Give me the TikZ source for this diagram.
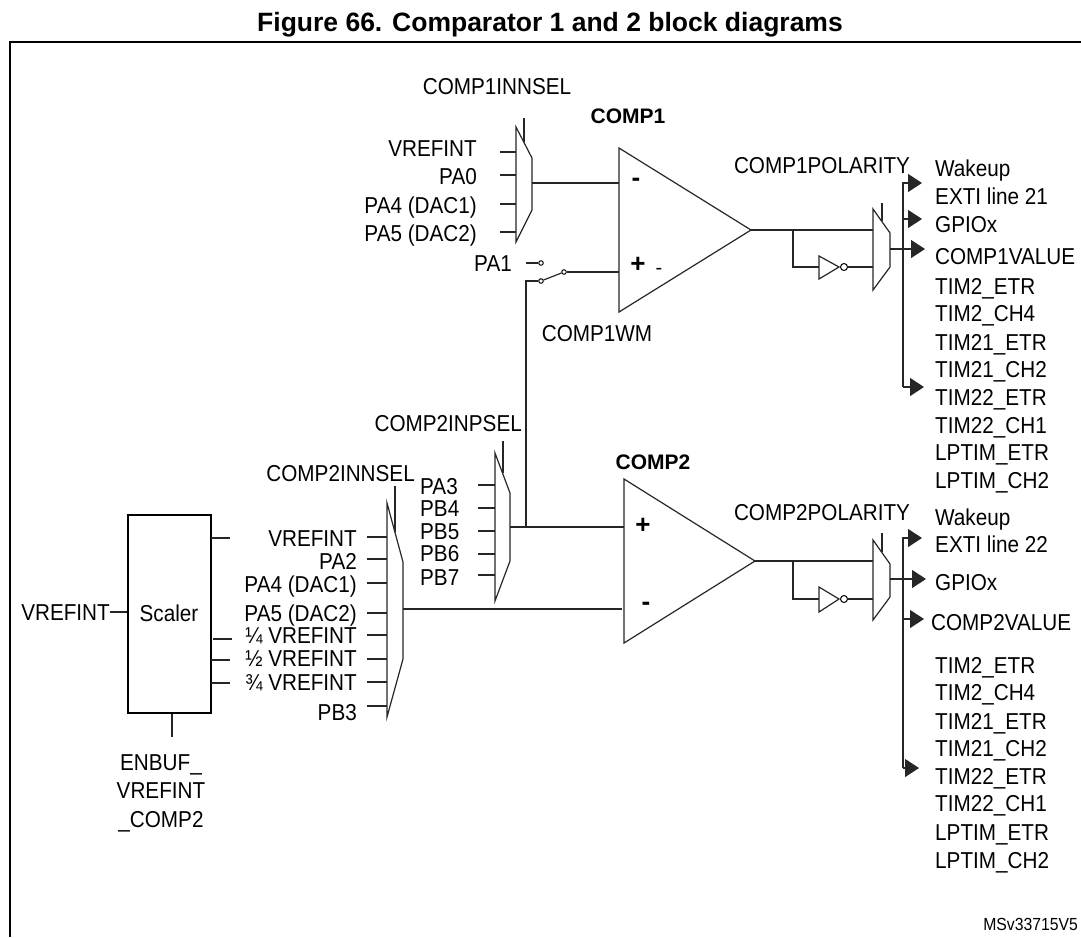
\documentclass[tikz,border=0pt]{standalone}
\usepackage{fontspec}
\setmainfont{Liberation Sans}
\usetikzlibrary{arrows.meta}

\tikzset{
    label text/.style={inner sep=0pt, xscale=.9, text height=16.5pt, text depth=0pt, font=\fontsize{23}{24}\selectfont},
    bold text/.style={inner sep=0pt, text height=15pt, text depth=0pt, font=\fontsize{21}{24}\selectfont\bfseries},
    sign text/.style={inner sep=0pt, font=\fontsize{26}{26}\selectfont\bfseries},
    wire/.style={line width=1.2pt, black!85},
    stub/.style={line width=2pt, black!85},
    out arrow/.style={wire, -{Triangle[length=14pt, width=18pt]}},
    block/.style={line width=1.2pt, black!85},
    contact/.style={circle, draw, line width=1pt, inner sep=0pt, minimum size=4.5pt},
    bubble/.style={circle, draw, line width=1pt, inner sep=0pt, minimum size=7pt}
}

\begin{document}
\begin{tikzpicture}[x=1pt, y=-1pt]
    \useasboundingbox (0,0) rectangle (1081,937);

    % Frame and title
    \coordinate (frameright) at (1081,41.5);
    \coordinate (framecorner) at (10,41.5);
    \coordinate (framebottom) at (10,937);
    \draw [line width=2pt] (frameright) -- (framecorner) -- (framebottom);
    \node (title) at (550,25) [inner sep=0pt, font=\fontsize{26.5}{28}\selectfont\bfseries] {Figure 66. Comparator 1 and 2 block diagrams};
    \node (ref) at (1078,924) [label text, anchor=east, text height=12.5pt, font=\fontsize{17.5}{18}\selectfont] {MSv33715V5};

    % First comparator
    \coordinate (c1top) at (619,148);
    \coordinate (c1out) at (751,230);
    \coordinate (c1bot) at (619,312);
    \draw [block] (c1top) -- (c1out) -- (c1bot) -- cycle;
    \node (c1name) at (628,116) [bold text] {COMP1};
    \node (c1minus) at (636,182) [sign text] {-};
    \node (c1plus) at (638,265) [sign text] {+};
    \node (c1dash) at (659,271) [inner sep=0pt, font=\fontsize{20}{20}\selectfont] {-};

    % First comparator input selector
    \node (innsel1) at (497,86) [label text] {COMP1INNSEL};
    \coordinate (s1a) at (516,127);
    \coordinate (s1b) at (532,158);
    \coordinate (s1c) at (532,210);
    \coordinate (s1d) at (516,242);
    \draw [block] (s1a) -- (s1b) -- (s1c) -- (s1d) -- cycle;
    \coordinate (s1sela) at (524,118);
    \coordinate (s1selb) at (524,142);
    \draw [wire] (s1sela) -- (s1selb);
    \foreach \y/\ly/\name [count=\i] in {152/148/VREFINT, 175/176/PA0, 204/205/PA4 (DAC1), 232/233/PA5 (DAC2)}
    {
        \node (s1lab\i) at (477,\ly) [label text, anchor=east] {\name};
        \coordinate (s1in\i) at (500,\y);
        \coordinate (s1to\i) at (516,\y);
        \draw [wire] (s1in\i) -- (s1to\i);
    }
    \coordinate (s1out) at (532,183);
    \coordinate (c1neg) at (619,183);
    \draw [wire] (s1out) -- (c1neg);

    % Window mode switch
    \node (pa1) at (512,263) [label text, anchor=east] {PA1};
    \node (swa) at (541,263) [contact] {};
    \node (swb) at (541,281) [contact] {};
    \node (swc) at (564,272) [contact] {};
    \coordinate (pa1end) at (526,263);
    \coordinate (c1pos) at (619,272);
    \coordinate (wmcorner) at (526,281);
    \coordinate (wmjoin) at (526,527);
    \draw [wire] (pa1end) -- (swa);
    \draw [wire] (swb) -- (swc);
    \draw [wire] (swc) -- (c1pos);
    \draw [wire] (swb) -- (wmcorner) -- (wmjoin);
    \node (wm) at (597,333) [label text] {COMP1WM};

    % Second comparator
    \coordinate (c2top) at (624,479);
    \coordinate (c2out) at (755,561);
    \coordinate (c2bot) at (624,643);
    \draw [block] (c2top) -- (c2out) -- (c2bot) -- cycle;
    \node (c2name) at (653,462) [bold text] {COMP2};
    \node (c2plus) at (643,526) [sign text] {+};
    \node (c2minus) at (646,606) [sign text] {-};

    % Second comparator plus selector
    \node (inpsel) at (522,423) [label text, anchor=east] {COMP2INPSEL};
    \coordinate (s2a) at (495,453);
    \coordinate (s2b) at (510,493);
    \coordinate (s2c) at (510,561);
    \coordinate (s2d) at (495,601);
    \draw [block] (s2a) -- (s2b) -- (s2c) -- (s2d) -- cycle;
    \coordinate (s2sela) at (503,441);
    \coordinate (s2selb) at (503,473);
    \draw [wire] (s2sela) -- (s2selb);
    \foreach \y/\ly/\name [count=\i] in {485/486/PA3, 508/508/PB4, 531/531/PB5, 554/553/PB6, 575/577/PB7}
    {
        \node (s2lab\i) at (420,\ly) [label text, anchor=west] {\name};
        \coordinate (s2in\i) at (478,\y);
        \coordinate (s2to\i) at (495,\y);
        \draw [wire] (s2in\i) -- (s2to\i);
    }
    \coordinate (s2out) at (510,527);
    \coordinate (c2pos) at (624,527);
    \draw [wire] (s2out) -- (c2pos);

    % Second comparator minus selector
    \node (innsel2) at (415,473) [label text, anchor=east] {COMP2INNSEL};
    \coordinate (s3a) at (387,503);
    \coordinate (s3b) at (403,562);
    \coordinate (s3c) at (403,659);
    \coordinate (s3d) at (387,717);
    \draw [block] (s3a) -- (s3b) -- (s3c) -- (s3d) -- cycle;
    \coordinate (s3sela) at (395,486);
    \coordinate (s3selb) at (395,532);
    \draw [wire] (s3sela) -- (s3selb);
    \foreach \y/\ly/\name [count=\i] in {537/538/VREFINT, 559/561/PA2, 583/584/PA4 (DAC1), 613/613/PA5 (DAC2), 635/635/¼ VREFINT, 659/658/½ VREFINT, 682/682/¾ VREFINT, 706/712/PB3}
    {
        \node (s3lab\i) at (357,\ly) [label text, anchor=east] {\name};
        \coordinate (s3in\i) at (367,\y);
        \coordinate (s3to\i) at (387,\y);
        \draw [wire] (s3in\i) -- (s3to\i);
    }
    \coordinate (s3out) at (403,609);
    \coordinate (c2neg) at (622,609);
    \coordinate (s3stuba) at (415,609);
    \coordinate (s3stubb) at (423,609);
    \draw [wire] (s3out) -- (c2neg);
    \draw [stub] (s3stuba) -- (s3stubb);

    % Scaler
    \node (scaler) at (169.5,614) [draw, line width=1.2pt, minimum width=83pt, minimum height=198pt, inner sep=0pt] {};
    \node (scalertext) at (169,613) [label text] {Scaler};
    \node (vref) at (110,612) [label text, anchor=east] {VREFINT};
    \draw [wire] (vref.east) -- (vref.east -| scaler.west);
    \foreach \y/\x in {538/211, 639/213, 660/211, 683/211}
    {
        \coordinate (scfrom\y) at (\x,\y);
        \coordinate (scto\y) at (\x + 19,\y);
        \draw [wire] (scfrom\y) -- (scto\y);
    }
    \coordinate (enbufend) at (172,737);
    \draw [wire] (scaler.south -| enbufend) -- (enbufend);
    \foreach \y/\name [count=\i] in {762/ENBUF\_, 790/VREFINT, 819/\_COMP2}
    {
        \node (enbuf\i) at (161,\y) [label text] {\name};
    }

    % First comparator output
    \node (pol1) at (822,165) [label text] {COMP1POLARITY};
    \coordinate (m1a) at (873,209);
    \coordinate (m1b) at (890,233);
    \coordinate (m1c) at (890,267);
    \coordinate (m1d) at (873,290);
    \draw [block] (m1a) -- (m1b) -- (m1c) -- (m1d) -- cycle;
    \coordinate (m1sela) at (882,203);
    \coordinate (m1selb) at (882,221);
    \draw [wire] (m1sela) -- (m1selb);
    \coordinate (m1in) at (873,230);
    \coordinate (b1) at (793,230);
    \coordinate (b1low) at (793,267);
    \coordinate (inv1a) at (819,256);
    \coordinate (inv1b) at (839,267);
    \coordinate (inv1c) at (819,279);
    \coordinate (inv1in) at (819,267);
    \coordinate (m1inb) at (873,267);
    \node (bub1) at (844,267) [bubble] {};
    \draw [wire] (c1out) -- (m1in);
    \draw [wire] (b1) -- (b1low) -- (inv1in);
    \draw [block] (inv1a) -- (inv1b) -- (inv1c) -- cycle;
    \draw [wire] (bub1) -- (m1inb);

    \coordinate (bus1top) at (903,183);
    \coordinate (bus1bot) at (903,387);
    \coordinate (bus1mid) at (903,219);
    \coordinate (m1out) at (890,249);
    \coordinate (a1top) at (922,183);
    \coordinate (a1mid) at (922,219);
    \coordinate (a1val) at (925,249);
    \coordinate (a1bot) at (924,387);
    \draw [out arrow] (bus1bot) -- (bus1top) -- (a1top);
    \draw [out arrow] (bus1bot) -- (a1bot);
    \draw [out arrow] (bus1mid) -- (a1mid);
    \draw [out arrow] (m1out) -- (a1val);

    \foreach \y/\name [count=\i] in {168/Wakeup, 196/EXTI line 21, 224/GPIOx, 256/COMP1VALUE, 286/TIM2\_ETR, 313/TIM2\_CH4, 342/TIM21\_ETR, 369/TIM21\_CH2, 397/TIM22\_ETR, 425/TIM22\_CH1, 452/LPTIM\_ETR, 480/LPTIM\_CH2}
    {
        \node (o1lab\i) at (935,\y) [label text, anchor=west] {\name};
    }

    % Second comparator output
    \node (pol2) at (822,512) [label text] {COMP2POLARITY};
    \coordinate (m2a) at (873,540);
    \coordinate (m2b) at (890,564);
    \coordinate (m2c) at (890,597);
    \coordinate (m2d) at (873,620);
    \draw [block] (m2a) -- (m2b) -- (m2c) -- (m2d) -- cycle;
    \coordinate (m2sela) at (882,533);
    \coordinate (m2selb) at (882,552);
    \draw [wire] (m2sela) -- (m2selb);
    \coordinate (m2in) at (873,561);
    \coordinate (b2) at (793,561);
    \coordinate (b2low) at (793,599);
    \coordinate (inv2a) at (819,587);
    \coordinate (inv2b) at (839,599);
    \coordinate (inv2c) at (819,612);
    \coordinate (inv2in) at (819,599);
    \coordinate (m2inb) at (873,599);
    \node (bub2) at (844,599) [bubble] {};
    \draw [wire] (c2out) -- (m2in);
    \draw [wire] (b2) -- (b2low) -- (inv2in);
    \draw [block] (inv2a) -- (inv2b) -- (inv2c) -- cycle;
    \draw [wire] (bub2) -- (m2inb);

    \coordinate (bus2top) at (903,538);
    \coordinate (bus2bot) at (903,768);
    \coordinate (bus2val) at (903,619);
    \coordinate (m2out) at (890,579);
    \coordinate (a2top) at (922,538);
    \coordinate (a2mid) at (926,579);
    \coordinate (a2val) at (924,619);
    \coordinate (a2bot) at (919,768);
    \draw [out arrow] (bus2bot) -- (bus2top) -- (a2top);
    \draw [out arrow] (bus2bot) -- (a2bot);
    \draw [out arrow] (bus2val) -- (a2val);
    \draw [out arrow] (m2out) -- (a2mid);

    \foreach \y/\x/\name [count=\i] in {517/935/Wakeup, 544/935/EXTI line 22, 582/935/GPIOx, 622/931/COMP2VALUE, 665/935/TIM2\_ETR, 692/935/TIM2\_CH4, 721/935/TIM21\_ETR, 748/935/TIM21\_CH2, 776/935/TIM22\_ETR, 803/935/TIM22\_CH1, 832/935/LPTIM\_ETR, 860/935/LPTIM\_CH2}
    {
        \node (o2lab\i) at (\x,\y) [label text, anchor=west] {\name};
    }
\end{tikzpicture}
\end{document}
